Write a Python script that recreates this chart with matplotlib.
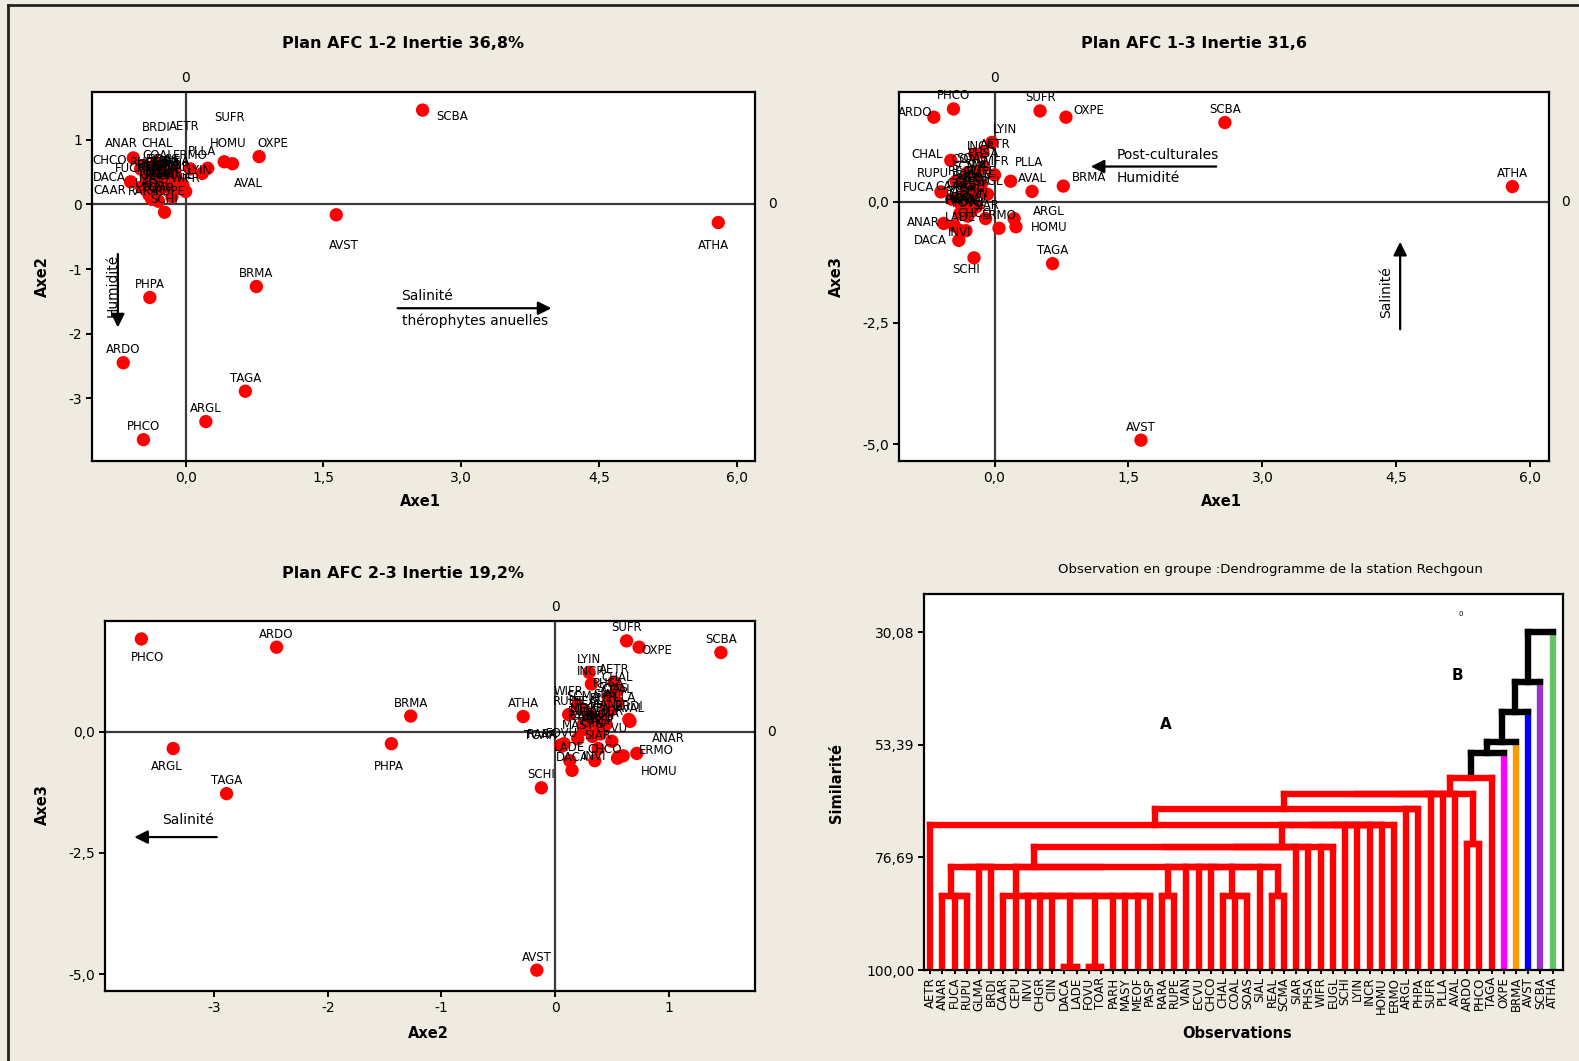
import numpy as np
import matplotlib.pyplot as plt
from matplotlib.lines import Line2D
from matplotlib.transforms import blended_transform_factory as blend

# species in the order of the dendrogram leaves
species = ['AETR', 'ANAR', 'FUCA', 'RUPU', 'GLMA', 'BRDI', 'CAAR', 'CEPU', 'INVI', 'CHGR',
           'CIIN', 'DACA', 'LADE', 'FOVU', 'TOAR', 'PARH', 'MASY', 'MEOF', 'PASP', 'RARA',
           'RUPE', 'VIAN', 'ECVU', 'CHCO', 'CHAL', 'COAL', 'SOAS', 'SIAL', 'REAL', 'SCMA',
           'SIAR', 'PHSA', 'WIFR', 'EUGL', 'SCHI', 'LYIN', 'INCR', 'HOMU', 'ERMO', 'ARGL',
           'PHPA', 'SUFR', 'PLLA', 'AVAL', 'ARDO', 'PHCO', 'TAGA', 'OXPE', 'BRMA', 'AVST',
           'SCBA', 'ATHA']

# AFC coordinates
axe1 = [-0.13, -0.57, -0.60, -0.43, -0.35, -0.32, -0.48, -0.28, -0.32, -0.25,
        -0.20, -0.40, -0.38, -0.30, -0.30, -0.27, -0.33, -0.22, -0.38, -0.37,
        -0.15, -0.18, -0.26, -0.45, -0.49, -0.30, -0.25, -0.20, -0.35, -0.30,
        -0.10, -0.12, 0.00, -0.08, -0.23, -0.03, -0.22, 0.24, 0.05, 0.22,
        -0.39, 0.51, 0.18, 0.42, -0.68, -0.46, 0.65, 0.80, 0.77, 1.64,
        2.58, 5.80]
axe2 = [0.52, 0.72, 0.35, 0.45, 0.42, 0.65, 0.27, 0.38, 0.35, 0.45,
        0.33, 0.15, 0.13, 0.06, 0.05, 0.25, 0.20, 0.28, 0.40, 0.08,
        0.12, 0.42, 0.50, 0.60, 0.55, 0.55, 0.50, 0.45, 0.30, 0.25,
        0.38, 0.47, 0.20, 0.25, -0.12, 0.30, 0.32, 0.56, 0.55, -3.36,
        -1.44, 0.63, 0.48, 0.66, -2.45, -3.64, -2.89, 0.74, -1.27, -0.16,
        1.46, -0.28]
axe3 = [1.02, -0.45, 0.20, 0.42, 0.10, 0.25, 0.05, 0.00, -0.60, 0.15,
        -0.10, -0.80, -0.60, -0.30, -0.28, 0.05, -0.15, 0.20, -0.05, -0.25,
        0.35, 0.30, -0.20, -0.50, 0.85, 0.60, 0.62, 0.50, 0.35, 0.45,
        -0.35, 0.72, 0.55, 0.15, -1.16, 1.22, 0.98, -0.52, -0.55, -0.35,
        -0.25, 1.87, 0.42, 0.21, 1.74, 1.91, -1.28, 1.74, 0.32, -4.92,
        1.63, 0.31]

# dendrogram: similarity levels of the merges
sim_ticks = [30.08, 53.39, 76.69, 100.00]
sim_labels = ['30,08', '53,39', '76,69', '100,00']
leaf_color = {'OXPE': '#ff00ff', 'BRMA': '#ff9900', 'AVST': '#0000ff',
              'SCBA': '#9933cc', 'ATHA': '#66c266'}


def rfold(h, *kids):
    node = kids[-1]
    for k in reversed(kids[:-1]):
        node = (h, k, node)
    return node


def lfold(h, *kids):
    node = kids[0]
    for k in kids[1:]:
        node = (h, node, k)
    return node


g1 = rfold(84.7, 'CAAR', 'CEPU', 'INVI', 'CHGR', 'CIIN', (99.3, 'DACA', 'LADE'),
           (99.3, 'FOVU', 'TOAR'), 'PARH', 'MASY', 'MEOF', 'PASP')
g2 = (78.6, rfold(78.6, rfold(84.7, 'ANAR', 'FUCA', 'RUPU'), 'GLMA', 'BRDI'),
      rfold(78.6, g1, (84.7, 'RARA', 'RUPE'), 'VIAN', 'ECVU', 'CHCO',
            rfold(84.7, 'CHAL', 'COAL', 'SOAS'), 'SIAL', (84.7, 'REAL', 'SCMA')))
g3 = (74.5, lfold(74.5, g2, 'SIAR', 'PHSA'), (74.5, 'WIFR', 'EUGL'))
g4 = (70.1, 'AETR', lfold(70.1, g3, 'SCHI', 'LYIN', 'INCR', 'HOMU', 'ERMO'))
g5 = (66.7, g4, (66.7, 'ARGL', 'PHPA'))
g6 = lfold(63.5, g5, 'SUFR', 'PLLA', 'AVAL', (73.9, 'ARDO', 'PHCO'))
tree = (30.08, (40.4, (46.7, (52.9, (55.1, (60.2, g6, 'TAGA'), 'OXPE'), 'BRMA'), 'AVST'), 'SCBA'), 'ATHA')

# label offsets (pixels) where they are not simply above the point
off1 = {'SCBA': (30, -6), 'OXPE': (14, 13), 'HOMU': (20, 25), 'SUFR': (-3, 46), 'AVAL': (24, -22),
        'AVST': (8, -31), 'ATHA': (-5, -23), 'ANAR': (-12, 14), 'CHAL': (16, 25), 'BRDI': (0, 35),
        'AETR': (11, 44), 'PLLA': (0, 22), 'LYIN': (17, 15), 'CHCO': (-35, 5), 'DACA': (-40, 17),
        'CAAR': (-32, -4), 'RARA': (-8, 8), 'RUPE': (-2, 5)}
off2 = {'OXPE': (23, 7), 'ARDO': (-19, 5), 'BRMA': (26, 9), 'PLLA': (18, 19), 'ARGL': (35, 7),
        'HOMU': (33, -1), 'LYIN': (13, 13), 'AETR': (12, 8), 'INCR': (6, 8), 'CHAL': (-24, 6),
        'RUPU': (-23, 8), 'FUCA': (-22, 4), 'ANAR': (-20, 1), 'DACA': (-29, 0), 'INVI': (-6, -2),
        'SCHI': (-8, -12), 'CHCO': (20, 12)}
off3 = {'PHCO': (6, -19), 'ARGL': (-6, -18), 'PHPA': (-2, -23), 'OXPE': (18, -3), 'PLLA': (12, 14),
        'ANAR': (32, 15), 'ERMO': (39, 8), 'HOMU': (41, -15), 'WIFR': (-9, 13), 'CHCO': (-19, 6),
        'RARA': (-22, 9), 'TOAR': (-20, 10), 'INVI': (0, 4)}

W, H = 1579, 1061
BG = '#efebe1'
fig = plt.figure(figsize=(W / 100, H / 100), dpi=100, facecolor=BG)


def box(l, t, r, b):
    return [l / W, 1 - b / H, (r - l) / W, (b - t) / H]


def style(ax):
    for s in ax.spines.values():
        s.set_linewidth(1.6)
        s.set_color('black')
    ax.tick_params(direction='out', length=4, width=1.4, labelsize=10, pad=3)


def afc(ax, x, y, xlim, ylim, xt, xtl, yt, ytl, offs):
    style(ax)
    ax.axhline(0, color='#3a3a3a', lw=1.6, zorder=1)
    ax.axvline(0, color='#3a3a3a', lw=1.6, zorder=1)
    ax.scatter(x, y, s=92, color='red', edgecolors='none', zorder=3)
    for name, xi, yi in zip(species, x, y):
        dx, dy = offs.get(name, (0, 13))
        ax.annotate(name, (xi, yi), xytext=(dx, dy), textcoords='offset pixels',
                    ha='center', va='center', fontsize=8.5, zorder=4)
    ax.set_xlim(xlim)
    ax.set_ylim(ylim)
    ax.set_xticks(xt, xtl)
    ax.set_yticks(yt, ytl)
    ax.text(0, 1.038, '0', transform=blend(ax.transData, ax.transAxes),
            ha='center', va='center', fontsize=10)
    ax.text(1.026, 0, '0', transform=blend(ax.transAxes, ax.transData),
            ha='center', va='center', fontsize=10)


arrow = dict(arrowstyle='-|>', color='black', lw=1.6, mutation_scale=20, shrinkA=0, shrinkB=0)

# Plan 1-2
ax1 = fig.add_axes(box(92, 92, 755, 461))
afc(ax1, axe1, axe2, (-1.02, 6.2), (-3.97, 1.74), [0, 1.5, 3, 4.5, 6],
    ['0,0', '1,5', '3,0', '4,5', '6,0'], [1, 0, -1, -2, -3], ['1', '0', '-1', '-2', '-3'], off1)
ax1.annotate('', xy=(0.693, 0.414), xytext=(0.461, 0.414), xycoords='axes fraction', arrowprops=arrow)
ax1.text(0.505, 0.447, 'Salinité', transform=ax1.transAxes, ha='center', va='center', fontsize=10)
ax1.text(0.578, 0.379, 'thérophytes anuelles', transform=ax1.transAxes, ha='center', va='center', fontsize=10)
ax1.annotate('', xy=(0.039, 0.362), xytext=(0.039, 0.561), xycoords='axes fraction', arrowprops=arrow)
ax1.text(0.031, 0.477, 'Humidité', transform=ax1.transAxes, ha='center', va='center', fontsize=10, rotation=90)

# Plan 1-3
ax2 = fig.add_axes(box(899, 92, 1549, 461))
afc(ax2, axe1, axe3, (-1.07, 6.21), (-5.35, 2.26), [0, 1.5, 3, 4.5, 6],
    ['0,0', '1,5', '3,0', '4,5', '6,0'], [0, -2.5, -5], ['0,0', '-2,5', '-5,0'], off2)
ax2.annotate('', xy=(0.295, 0.798), xytext=(0.488, 0.798), xycoords='axes fraction', arrowprops=arrow)
ax2.text(0.414, 0.830, 'Post-culturales', transform=ax2.transAxes, ha='center', va='center', fontsize=10)
ax2.text(0.383, 0.766, 'Humidité', transform=ax2.transAxes, ha='center', va='center', fontsize=10)
ax2.annotate('', xy=(0.771, 0.594), xytext=(0.771, 0.357), xycoords='axes fraction', arrowprops=arrow)
ax2.text(0.749, 0.458, 'Salinité', transform=ax2.transAxes, ha='center', va='center', fontsize=10, rotation=90)

# Plan 2-3
ax3 = fig.add_axes(box(105, 621, 755, 991))
afc(ax3, axe2, axe3, (-3.96, 1.76), (-5.35, 2.28), [-3, -2, -1, 0, 1],
    ['-3', '-2', '-1', '0', '1'], [0, -2.5, -5], ['0,0', '-2,5', '-5,0'], off3)
ax3.annotate('', xy=(0.045, 0.416), xytext=(0.172, 0.416), xycoords='axes fraction', arrowprops=arrow)
ax3.text(0.127, 0.462, 'Salinité', transform=ax3.transAxes, ha='center', va='center', fontsize=10)

# Dendrogram
ax4 = fig.add_axes(box(924, 594, 1563, 970))
style(ax4)
LW = 4.6


def draw(node):
    if isinstance(node, str):
        return species.index(node), 100.0, leaf_color.get(node, 'red')
    h, a, b = node
    xa, ha, ca = draw(a)
    xb, hb, cb = draw(b)
    col = 'red' if h >= 58 else 'black'
    ax4.plot([xa, xa], [ha, h], color=ca or col, lw=LW, solid_capstyle='projecting', zorder=2)
    ax4.plot([xb, xb], [hb, h], color=cb or col, lw=LW, solid_capstyle='projecting', zorder=2)
    ax4.plot([xa, xb], [h, h], color=col, lw=LW, solid_capstyle='projecting', zorder=3)
    return (xa + xb) / 2, h, None


draw(tree)
ax4.set_xlim(-0.5, 51.85)
ax4.set_ylim(100, 22.2)
ax4.set_yticks(sim_ticks, sim_labels)
ax4.set_xticks(range(len(species)), species, rotation=90, fontsize=8.5)
ax4.tick_params(axis='x', length=3, pad=2)
ax4.text(19.3, 49.1, 'A', fontsize=11, fontweight='bold', ha='center', va='center')
ax4.text(43.2, 39.1, 'B', fontsize=11, fontweight='bold', ha='center', va='center')
ax4.text(43.5, 26.3, '0', fontsize=5, ha='center', va='center')

# titles and axis names
bold = dict(fontweight='bold', ha='center', va='center')
fig.text(403 / W, 1 - 44 / H, 'Plan AFC 1-2 Inertie 36,8%', fontsize=11.5, **bold)
fig.text(1194 / W, 1 - 44 / H, 'Plan AFC 1-3 Inertie 31,6', fontsize=11.5, **bold)
fig.text(403 / W, 1 - 574 / H, 'Plan AFC 2-3 Inertie 19,2%', fontsize=11.5, **bold)
fig.text(1270 / W, 1 - 570 / H, 'Observation en groupe :Dendrogramme de la station Rechgoun',
         fontsize=9.5, ha='center', va='center')
fig.text(420 / W, 1 - 502 / H, 'Axe1', fontsize=10.5, **bold)
fig.text(1221 / W, 1 - 502 / H, 'Axe1', fontsize=10.5, **bold)
fig.text(428 / W, 1 - 1034 / H, 'Axe2', fontsize=10.5, **bold)
fig.text(1237 / W, 1 - 1034 / H, 'Observations', fontsize=10.5, **bold)
fig.text(42 / W, 1 - 277 / H, 'Axe2', fontsize=10.5, rotation=90, **bold)
fig.text(836 / W, 1 - 277 / H, 'Axe3', fontsize=10.5, rotation=90, **bold)
fig.text(42 / W, 1 - 805 / H, 'Axe3', fontsize=10.5, rotation=90, **bold)
fig.text(836 / W, 1 - 783 / H, 'Similarité', fontsize=10.5, rotation=90, **bold)

# window frame
fig.add_artist(Line2D([8 / W, 1], [1 - 5 / H, 1 - 5 / H], color='#222222', lw=2))
fig.add_artist(Line2D([8 / W, 8 / W], [0, 1 - 5 / H], color='#222222', lw=2))

fig.savefig('out.png', dpi=100, facecolor=BG)
